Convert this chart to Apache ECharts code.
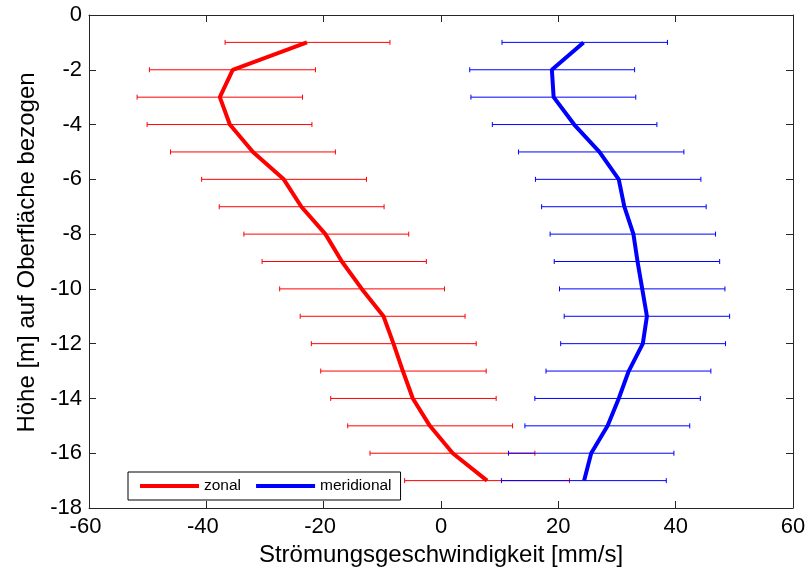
<!DOCTYPE html>
<html>
<head>
<meta charset="utf-8">
<script src="https://cdn.jsdelivr.net/npm/echarts@6/dist/echarts.min.js"></script>
<style>
html,body{margin:0;padding:0;background:#fff;}
#chart{width:810px;height:576px;}
</style>
</head>
<body>
<div id="chart"></div>
<script>
// Depth levels [m]
const depths = [-1, -2, -3, -4, -5, -6, -7, -8, -9, -10, -11, -12, -13, -14, -15, -16, -17];

// Zonal velocity [mm/s]: mean, lower and upper error bound
const zonalMean = [-22.85, -35.5, -37.7, -36.0, -32.05, -26.8, -23.8, -19.7, -16.9, -13.5, -9.8, -8.1, -6.5, -4.8, -1.9, 2.0, 7.85];
const zonalLow  = [-36.8, -49.7, -51.8, -50.1, -46.1, -40.8, -37.8, -33.6, -30.5, -27.5, -24.0, -22.1, -20.5, -18.8, -15.9, -12.1, -6.2];
const zonalHigh = [-8.7, -21.4, -23.6, -22.0, -18.0, -12.7, -9.7, -5.5, -2.5, 0.6, 4.1, 6.0, 7.7, 9.4, 12.2, 16.0, 21.9];

// Meridional velocity [mm/s]: mean, lower and upper error bound
const meridMean = [24.3, 18.9, 19.2, 22.7, 27.0, 30.3, 31.25, 32.8, 33.5, 34.3, 35.1, 34.4, 32.0, 30.3, 28.4, 25.6, 24.4];
const meridLow  = [10.4, 4.9, 5.1, 8.75, 13.2, 16.1, 17.15, 18.6, 19.3, 20.2, 21.0, 20.4, 17.9, 16.0, 14.3, 11.5, 10.3];
const meridHigh = [38.6, 33.0, 33.2, 36.8, 41.4, 44.3, 45.2, 46.8, 47.5, 48.4, 49.2, 48.5, 46.0, 44.2, 42.4, 39.7, 38.4];

// Axis ticks
const xTicks = [-60, -40, -20, 0, 20, 40, 60];
const yTicks = [0, -2, -4, -6, -8, -10, -12, -14, -16, -18];

const FONT = "'Liberation Sans', Arial, sans-serif";
const AXIS_COLOR = '#262626';

const chart = echarts.init(document.getElementById('chart'), null, {renderer: 'canvas'});

function lineData(mean) {
  return mean.map((v, i) => [v, depths[i]]);
}
function errData(lo, hi) {
  return lo.map((v, i) => [v, hi[i], depths[i]]);
}
function errRender(color) {
  return function (params, api) {
    const a = api.coord([api.value(0), api.value(2)]);
    const b = api.coord([api.value(1), api.value(2)]);
    const c = 2.5;
    const st = {stroke: color, lineWidth: 1};
    return {
      type: 'group',
      children: [
        {type: 'line', shape: {x1: a[0], y1: a[1], x2: b[0], y2: b[1]}, style: st},
        {type: 'line', shape: {x1: a[0], y1: a[1] - c, x2: a[0], y2: a[1] + c}, style: st},
        {type: 'line', shape: {x1: b[0], y1: b[1] - c, x2: b[0], y2: b[1] + c}, style: st}
      ]
    };
  };
}

const xMin = xTicks[0], xMax = xTicks[xTicks.length - 1];
const yMin = yTicks[yTicks.length - 1], yMax = yTicks[0];

function xAxisCfg(pos, showLabel) {
  return {
    type: 'value', position: pos, min: xMin, max: xMax, interval: 20,
    axisLine: {show: true, onZero: false, lineStyle: {color: AXIS_COLOR, width: 1}},
    axisTick: {show: true, inside: true, length: 7, lineStyle: {color: AXIS_COLOR}},
    axisLabel: {
      show: showLabel, color: '#000', fontSize: 22, fontFamily: FONT, margin: 8,
      formatter: function (v) { return v < 0 ? '{neg|' + v + '}' : '{pos|' + v + '}'; },
      rich: {
        neg: {color: '#000', fontSize: 22, fontFamily: FONT, padding: [0, 7, 0, 0]},
        pos: {color: '#000', fontSize: 22, fontFamily: FONT}
      }
    },
    splitLine: {show: false}
  };
}
function yAxisCfg(pos, showLabel) {
  return {
    type: 'value', position: pos, min: yMin, max: yMax, interval: 2,
    axisLine: {show: true, onZero: false, lineStyle: {color: AXIS_COLOR, width: 1}},
    axisTick: {show: true, inside: true, length: 7, lineStyle: {color: AXIS_COLOR}},
    axisLabel: {show: showLabel, color: '#000', fontSize: 22, fontFamily: FONT, margin: 7},
    splitLine: {show: false}
  };
}

const xBottom = xAxisCfg('bottom', true);
xBottom.name = 'Strömungsgeschwindigkeit [mm/s]';
xBottom.nameLocation = 'middle';
xBottom.nameGap = 34;
xBottom.nameTextStyle = {color: '#000', fontSize: 24, fontFamily: FONT};

const yLeft = yAxisCfg('left', true);
yLeft.name = 'Höhe [m] auf Oberfläche bezogen';
yLeft.nameLocation = 'middle';
yLeft.nameGap = 49;
yLeft.nameTextStyle = {color: '#000', fontSize: 24, fontFamily: FONT, padding: [0, 0, 0, 18]};

chart.setOption({
  backgroundColor: '#fff',
  animation: false,
  textStyle: {fontFamily: FONT},
  grid: {left: 89, right: 17, top: 15, bottom: 68, containLabel: false},
  xAxis: [xBottom, xAxisCfg('top', false)],
  yAxis: [yLeft, yAxisCfg('right', false)],
  legend: {
    data: ['zonal', 'meridional'],
    left: 128, top: 472,
    orient: 'horizontal',
    icon: 'rect',
    itemWidth: 59, itemHeight: 4, itemGap: 15,
    padding: [6, 9, 6, 12],
    borderColor: '#000', borderWidth: 1, borderRadius: 0,
    backgroundColor: '#fff',
    textStyle: {color: '#000', fontSize: 15.5, fontFamily: FONT}
  },
  series: [
    {
      name: 'zonal-err', type: 'custom', xAxisIndex: 0, yAxisIndex: 0,
      renderItem: errRender('#ff0000'),
      encode: {x: [0, 1], y: 2},
      data: errData(zonalLow, zonalHigh), z: 2
    },
    {
      name: 'zonal', type: 'line', xAxisIndex: 0, yAxisIndex: 0,
      data: lineData(zonalMean), showSymbol: false, symbol: 'none',
      lineStyle: {color: '#ff0000', width: 4}, itemStyle: {color: '#ff0000'}, z: 3
    },
    {
      name: 'meridional-err', type: 'custom', xAxisIndex: 0, yAxisIndex: 0,
      renderItem: errRender('#0000ff'),
      encode: {x: [0, 1], y: 2},
      data: errData(meridLow, meridHigh), z: 4
    },
    {
      name: 'meridional', type: 'line', xAxisIndex: 0, yAxisIndex: 0,
      data: lineData(meridMean), showSymbol: false, symbol: 'none',
      lineStyle: {color: '#0000ff', width: 4}, itemStyle: {color: '#0000ff'}, z: 5
    }
  ]
});
</script>
</body>
</html>
